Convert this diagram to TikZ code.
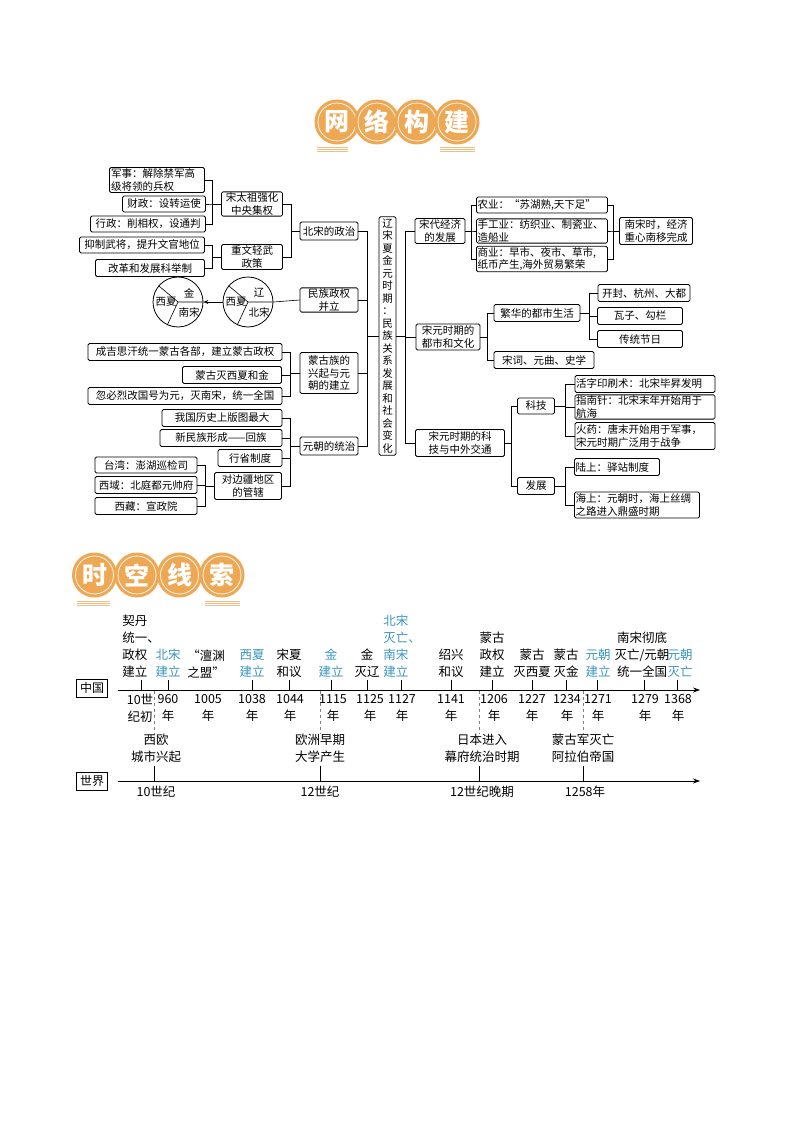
\documentclass[tikz,border=0pt]{standalone}
\usepackage{fontspec}
\setmainfont{Noto Sans CJK SC}
\usetikzlibrary{positioning,arrows.meta,calc}
\definecolor{TitleOrange}{RGB}{238,168,84}
\definecolor{TitleLine}{RGB}{240,190,130}
\definecolor{EventBlue}{RGB}{60,150,190}
\tikzset{
    box/.style={draw, rounded corners=1.5pt, line width=0.8pt, inner sep=1pt, align=center,
        font=\fontsize{10.5}{12.5}\selectfont},
    boxl/.style={box, align=left},
    link/.style={line width=0.6pt},
    tcircle/.style={circle, fill=TitleOrange, minimum size=45pt, inner sep=0pt, text=white,
        font=\fontsize{25}{25}\selectfont\bfseries},
    ring/.style={draw=white, line width=0.7pt},
    evt/.style={anchor=south, align=center, inner sep=1pt, font=\fontsize{12.5}{17}\selectfont},
    evtb/.style={evt, text=EventBlue},
    yr/.style={anchor=north, align=center, inner sep=1pt, font=\fontsize{12.5}{17}\selectfont},
    lane/.style={draw, line width=0.6pt, inner sep=3.5pt, font=\fontsize{12}{14}\selectfont},
    guide/.style={dashed, line width=0.5pt, draw=gray}
}
\begin{document}
\begin{tikzpicture}[x=1pt,y=-1pt]
\useasboundingbox[fill=white] (0,0) rectangle (794,1123);
% titles
\foreach \t [count=\i] in {网,络,构,建}{
    \node[tcircle] (ta\i) at (297+40*\i,122) {\t};
    \draw[ring] (ta\i) circle (19);
}
\foreach \d in {0,2.2,4.4}{
    \draw[TitleLine, line width=0.8pt] (317,147+\d) -- (348,147+\d);
    \draw[TitleLine, line width=0.8pt] (440,147+\d) -- (475,147+\d);
}
\foreach \t [count=\i] in {时,空,线,索}{
    \node[tcircle] (tb\i) at (52+42.5*\i,575) {\t};
    \draw[ring] (tb\i) circle (19);
}
\foreach \d in {0,2.2,4.4}{
    \draw[TitleLine, line width=0.8pt] (77,601+\d) -- (110,601+\d);
    \draw[TitleLine, line width=0.8pt] (205,601+\d) -- (240,601+\d);
}

% centre
\node[box, minimum width=17pt, minimum height=231pt, text width=11pt, inner sep=2pt] (core) at (387.5,336)
    {辽\\宋\\夏\\金\\元\\时\\期\\：\\民\\族\\关\\系\\发\\展\\和\\社\\会\\变\\化};

% left branch
\node[boxl, minimum width=95pt, minimum height=25pt, text width=92pt] (jun) at (157,180) {军事：解除禁军高\\级将领的兵权};
\node[box, minimum width=83pt, minimum height=16pt] (cai) at (164,204) {财政：设转运使};
\node[box, minimum width=115pt, minimum height=16pt] (xing) at (148,224) {行政：削相权，设通判};
\node[box, minimum width=125pt, minimum height=16pt] (yi) at (142,245) {抑制武将，提升文官地位};
\node[box, minimum width=109pt, minimum height=17pt] (gai) at (150,268) {改革和发展科举制};
\node[box, minimum width=61pt, minimum height=24pt] (qiang) at (252,204) {宋太祖强化\\中央集权};
\node[box, minimum width=61pt, minimum height=25pt] (zhong) at (252,257) {重文轻武\\政策};
\node[box, minimum width=58pt, minimum height=18pt] (bszz) at (329,231) {北宋的政治};
\node[box, minimum width=58pt, minimum height=23pt] (mzbl) at (329,300) {民族政权\\并立};
\node[box, minimum width=194pt, minimum height=17pt] (cjs) at (185,352) {成吉思汗统一蒙古各部，建立蒙古政权};
\node[box, minimum width=99pt, minimum height=17pt] (mgm) at (232,375) {蒙古灭西夏和金};
\node[box, minimum width=194pt, minimum height=17pt] (hbl) at (185,396) {忽必烈改国号为元，灭南宋，统一全国};
\node[box, minimum width=58pt, minimum height=41pt] (mgz) at (329,373) {蒙古族的\\兴起与元\\朝的建立};
\node[box, minimum width=120pt, minimum height=17pt] (wgl) at (222,418) {我国历史上版图最大};
\node[box, minimum width=122pt, minimum height=17pt] (xmz) at (221,438) {新民族形成——回族};
\node[box, minimum width=64pt, minimum height=17pt] (xs) at (250,458) {行省制度};
\node[box, minimum width=67pt, minimum height=27pt] (dbj) at (248,486) {对边疆地区\\的管辖};
\node[box, minimum width=58pt, minimum height=18pt] (yczz) at (329,446) {元朝的统治};
\node[box, minimum width=102pt, minimum height=16pt] (tw) at (146,465) {台湾：澎湖巡检司};
\node[box, minimum width=102pt, minimum height=17pt] (xy) at (146,485) {西域：北庭都元帅府};
\node[box, minimum width=102pt, minimum height=17pt] (xz) at (146,506) {西藏：宣政院};

% pie circles
\node[circle, draw, line width=0.8pt, minimum size=50pt, inner sep=0pt] (pieR) at (248,302) {};
\node[circle, draw, line width=0.8pt, minimum size=50pt, inner sep=0pt] (pieL) at (178,302) {};
\foreach \p in {pieL,pieR}{
    \draw[link] (\p.center) -- (\p.140) (\p.center) -- (\p.0) (\p.center) -- (\p.245);
}
\node[font=\fontsize{10.5}{12}\selectfont, inner sep=0pt] (pl1) at ([xshift=-12pt]pieL.center) {西夏};
\node[font=\fontsize{10.5}{12}\selectfont, inner sep=0pt] (pl2) at ([xshift=11pt,yshift=9pt]pieL.center) {金};
\node[font=\fontsize{10.5}{12}\selectfont, inner sep=0pt] (pl3) at ([xshift=11pt,yshift=-10pt]pieL.center) {南宋};
\node[font=\fontsize{10.5}{12}\selectfont, inner sep=0pt] (pr1) at ([xshift=-12pt]pieR.center) {西夏};
\node[font=\fontsize{10.5}{12}\selectfont, inner sep=0pt] (pr2) at ([xshift=11pt,yshift=9pt]pieR.center) {辽};
\node[font=\fontsize{10.5}{12}\selectfont, inner sep=0pt] (pr3) at ([xshift=11pt,yshift=-10pt]pieR.center) {北宋};
\draw[link] (mzbl.west) -- (pieR.east);
\draw[link, -{Stealth[length=5pt,width=4pt]}] (pieR.west) -- (pieL.east);

% left links
\foreach \c in {jun,cai,xing} \draw[link] (qiang.west) -- ++(-9,0) |- (\c.east);
\foreach \c in {yi,gai} \draw[link] (zhong.west) -- ++(-9,0) |- (\c.east);
\foreach \c in {qiang,zhong} \draw[link] (bszz.west) -- ++(-8,0) |- (\c.east);
\foreach \c in {cjs,mgm,hbl} \draw[link] (mgz.west) -- ++(-9,0) |- (\c.east);
\foreach \c in {wgl,xmz,xs,dbj} \draw[link] (yczz.west) -- ++(-9,0) |- (\c.east);
\foreach \c in {tw,xy,xz} \draw[link] (dbj.west) -- ++(-9,0) |- (\c.east);
\foreach \c in {bszz,mzbl,mgz,yczz} \draw[link] (core.west) -- ++(-11,0) |- (\c.east);

% right branch
\node[box, minimum width=50pt, minimum height=25pt] (sdjj) at (440,231) {宋代经济\\的发展};
\node[boxl, minimum width=131pt, minimum height=16pt, text width=129pt] (ny) at (542,205) {农业：“苏湖熟,天下足”};
\node[boxl, minimum width=131pt, minimum height=24pt, text width=129pt] (sgy) at (542,231) {手工业：纺织业、制瓷业、\\造船业};
\node[boxl, minimum width=131pt, minimum height=24pt, text width=129pt] (shy) at (542,259) {商业：早市、夜市、草市,\\纸币产生,海外贸易繁荣};
\node[box, minimum width=73pt, minimum height=27pt] (nss) at (656,231) {南宋时，经济\\重心南移完成};
\node[box, minimum width=64pt, minimum height=26pt] (dswh) at (448,337) {宋元时期的\\都市和文化};
\node[box, minimum width=86pt, minimum height=17pt] (fhds) at (537,313) {繁华的都市生活};
\node[box, minimum width=100pt, minimum height=17pt] (scq) at (544,360) {宋词、元曲、史学};
\node[box, minimum width=92pt, minimum height=17pt] (kf) at (644,293) {开封、杭州、大都};
\node[box, minimum width=85pt, minimum height=17pt] (wz) at (640,316) {瓦子、勾栏};
\node[box, minimum width=85pt, minimum height=17pt] (ctjr) at (640,339) {传统节日};
\node[box, minimum width=89pt, minimum height=27pt] (kjjt) at (460,443) {宋元时期的科\\技与中外交通};
\node[box, minimum width=37pt, minimum height=16pt] (kj) at (536,406) {科技};
\node[box, minimum width=37pt, minimum height=17pt] (fz) at (536,486) {发展};
\node[boxl, minimum width=140pt, minimum height=17pt, text width=138pt] (hz) at (645,384) {活字印刷术：北宋毕昇发明};
\node[boxl, minimum width=140pt, minimum height=23pt, text width=138pt] (znz) at (645,407) {指南针：北宋末年开始用于\\航海};
\node[boxl, minimum width=140pt, minimum height=27pt, text width=138pt] (hy) at (645,436) {火药：唐末开始用于军事，\\宋元时期广泛用于战争};
\node[boxl, minimum width=85pt, minimum height=17pt, text width=83pt] (ls) at (617,467) {陆上：驿站制度};
\node[boxl, minimum width=125pt, minimum height=26pt, text width=123pt] (hs) at (637,505) {海上：元朝时，海上丝绸\\之路进入鼎盛时期};

% right links
\foreach \c in {sdjj,dswh,kjjt} \draw[link] (core.east) -- ++(9,0) |- (\c.west);
\foreach \c in {ny,sgy,shy} \draw[link] (sdjj.east) -- ++(6,0) |- (\c.west);
\foreach \c in {ny,sgy,shy} \draw[link] (nss.west) -- ++(-6,0) |- (\c.east);
\foreach \c in {fhds,scq} \draw[link] (dswh.east) -- ++(7,0) |- (\c.west);
\foreach \c in {kf,wz,ctjr} \draw[link] (fhds.east) -- ++(9,0) |- (\c.west);
\foreach \c in {kj,fz} \draw[link] (kjjt.east) -- ++(6,0) |- (\c.west);
\foreach \c in {hz,znz,hy} \draw[link] (kj.east) -- ++(10,0) |- (\c.west);
\foreach \c in {ls,hs} \draw[link] (fz.east) -- ++(10,0) |- (\c.west);

% timeline
\node[lane] (cn) at (92,688) {中国};
\node[lane] (wd) at (92,781) {世界};
\coordinate (cnA) at (118,690);
\coordinate (cnB) at (700,690);
\coordinate (wdA) at (118,781);
\coordinate (wdB) at (700,781);
\draw[line width=0.7pt, -{Stealth[length=7pt,width=5pt]}] (cnA) -- (cnB);
\draw[line width=0.7pt, -{Stealth[length=7pt,width=5pt]}] (wdA) -- (wdB);
\foreach \x in {141,168,252,289,331,367,401,451,492,532,566,597,644,677}
    \draw[line width=0.6pt] (\x,690) -- (\x,680);
\foreach \x in {154,320,479,583}{
    \draw[guide] (\x,691) -- (\x,734);
    \draw[line width=0.6pt] (\x,781) -- (\x,766);
}
% events
\node[evt, align=left] (e1) at (141,679) {契丹\\统一、\\政权\\建立};
\node[evtb] (e2) at (168,679) {北宋\\建立};
\node[evt] (e3) at (206,679) {“澶渊\\之盟”};
\node[evtb] (e4) at (252,679) {西夏\\建立};
\node[evt] (e5) at (289,679) {宋夏\\和议};
\node[evtb] (e6) at (331,679) {金\\建立};
\node[evt] (e7) at (367,679) {金\\灭辽};
\node[evtb, align=left] (e8) at (402,679) {北宋\\灭亡、\\南宋\\建立};
\node[evt] (e9) at (451,679) {绍兴\\和议};
\node[evt] (e10) at (492,679) {蒙古\\政权\\建立};
\node[evt] (e11) at (532,679) {蒙古\\灭西夏};
\node[evt] (e12) at (566,679) {蒙古\\灭金};
\node[evtb] (e13) at (598,679) {元朝\\建立};
\node[evt] (e14) at (642,679) {南宋彻底\\灭亡/元朝\\统一全国};
\node[evtb] (e15) at (680,679) {元朝\\灭亡};
% years
\node[yr] (y1) at (140,693) {10世\\纪初};
\node[yr] (y2) at (168,693) {960\\年};
\node[yr] (y3) at (208,693) {1005\\年};
\node[yr] (y4) at (252,693) {1038\\年};
\node[yr] (y5) at (290,693) {1044\\年};
\node[yr] (y6) at (333,693) {1115\\年};
\node[yr] (y7) at (370,693) {1125\\年};
\node[yr] (y8) at (402,693) {1127\\年};
\node[yr] (y9) at (451,693) {1141\\年};
\node[yr] (y10) at (494,693) {1206\\年};
\node[yr] (y11) at (532,693) {1227\\年};
\node[yr] (y12) at (567,693) {1234\\年};
\node[yr] (y13) at (598,693) {1271\\年};
\node[yr] (y14) at (645,693) {1279\\年};
\node[yr] (y15) at (678,693) {1368\\年};
% world
\node[evt] (w1) at (156,764) {西欧\\城市兴起};
\node[evt] (w2) at (320,764) {欧洲早期\\大学产生};
\node[evt] (w3) at (482,764) {日本进入\\幕府统治时期};
\node[evt] (w4) at (583,764) {蒙古军灭亡\\阿拉伯帝国};
\node[yr] (wy1) at (156,785) {10世纪};
\node[yr] (wy2) at (320,785) {12世纪};
\node[yr] (wy3) at (482,785) {12世纪晚期};
\node[yr] (wy4) at (585,785) {1258年};
\end{tikzpicture}
\end{document}
